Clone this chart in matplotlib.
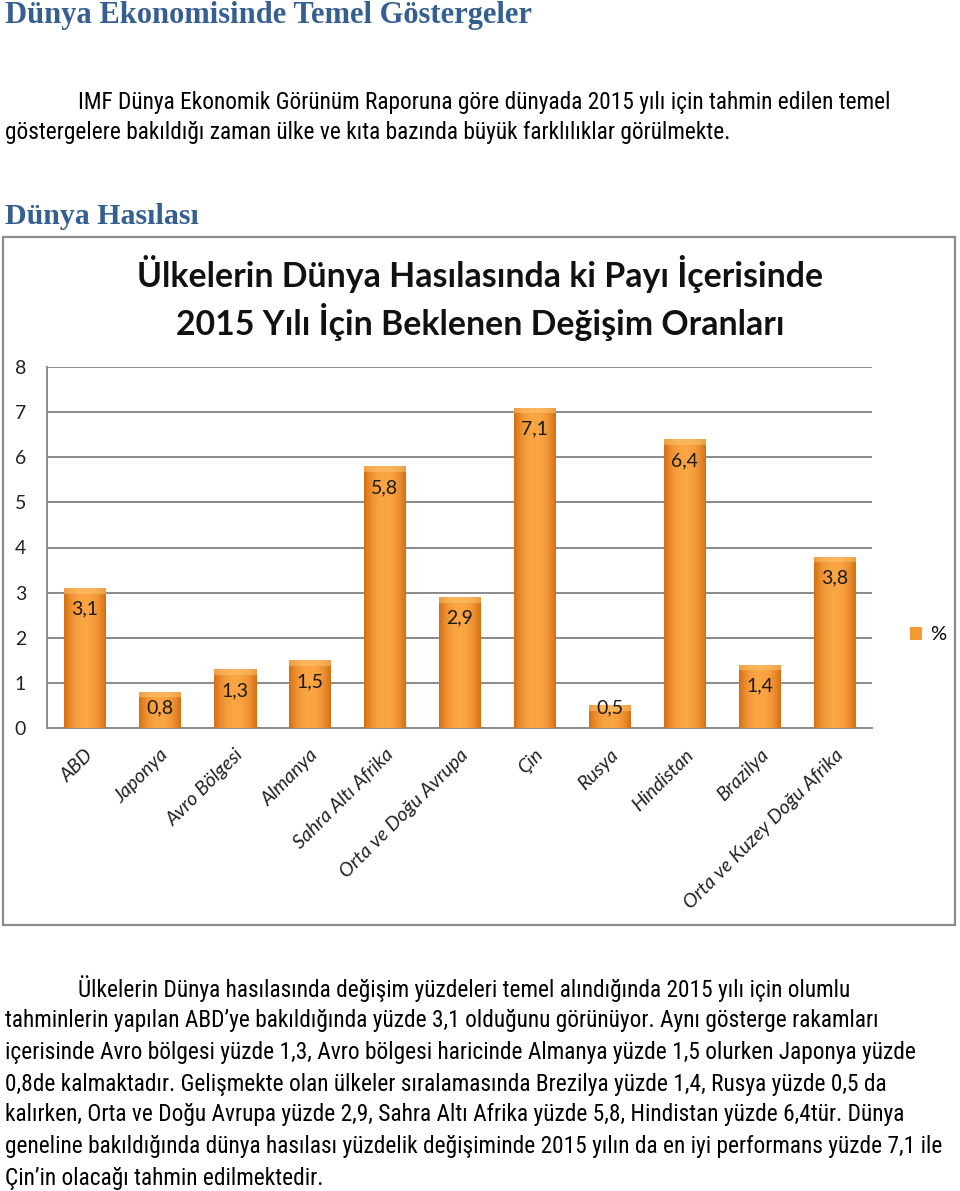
import numpy as np
import matplotlib
matplotlib.use("Agg")
import matplotlib.pyplot as plt
from matplotlib.patches import Rectangle
from matplotlib.colors import to_rgb
from matplotlib import font_manager

# ---------------- data ----------------
categories = ["ABD", "Japonya", "Avro Bölgesi", "Almanya", "Sahra Altı Afrika",
              "Orta ve Doğu Avrupa", "Çin", "Rusya", "Hindistan", "Brazilya",
              "Orta ve Kuzey Doğu Afrika"]
values = [3.1, 0.8, 1.3, 1.5, 5.8, 2.9, 7.1, 0.5, 6.4, 1.4, 3.8]
value_labels = ["3,1", "0,8", "1,3", "1,5", "5,8", "2,9", "7,1", "0,5", "6,4", "1,4", "3,8"]
yticks = [0, 1, 2, 3, 4, 5, 6, 7, 8]
series_name = "%"

chart_title = "Ülkelerin Dünya Hasılasında ki Payı İçerisinde\n2015 Yılı İçin Beklenen Değişim Oranları"
heading1 = "Dünya Ekonomisinde Temel Göstergeler"
heading2 = "Dünya Hasılası"
para1 = ["IMF Dünya Ekonomik Görünüm Raporuna göre dünyada 2015 yılı için tahmin edilen temel",
         "göstergelere bakıldığı zaman ülke ve kıta bazında büyük farklılıklar görülmekte."]
para2 = ["Ülkelerin Dünya hasılasında değişim yüzdeleri temel alındığında 2015 yılı için olumlu",
         "tahminlerin yapılan ABD’ye bakıldığında yüzde 3,1 olduğunu görünüyor. Aynı gösterge rakamları",
         "içerisinde Avro bölgesi yüzde 1,3, Avro bölgesi haricinde Almanya yüzde 1,5 olurken Japonya yüzde",
         "0,8de kalmaktadır. Gelişmekte olan ülkeler sıralamasında Brezilya yüzde 1,4, Rusya yüzde 0,5 da",
         "kalırken, Orta ve Doğu Avrupa yüzde 2,9, Sahra Altı Afrika yüzde 5,8, Hindistan yüzde 6,4tür. Dünya",
         "geneline bakıldığında dünya hasılası yüzdelik değişiminde 2015 yılın da en iyi performans yüzde 7,1 ile",
         "Çin’in olacağı tahmin edilmektedir."]

# ---------------- fonts ----------------
def is_regular(f):
    w = f.weight
    if isinstance(w, str):
        w = {"normal": 400, "regular": 400, "book": 400}.get(w.lower(), 0)
    return w in (400, 450) and f.style == "normal"

body_family = "Lato"
entries = font_manager.fontManager.ttflist
for cand in ["Noto Sans Condensed", "Roboto Condensed", "Liberation Sans Narrow",
             "Open Sans Condensed", "DejaVu Sans Condensed"]:
    if any(f.name == cand and is_regular(f) for f in entries):
        body_family = cand
        break
body_font = [body_family, "DejaVu Sans"]
serif_font = ["Liberation Serif", "DejaVu Serif"]
chart_font = ["Lato", "DejaVu Sans"]

# ---------------- figure ----------------
W, H = 960, 1191
fig = plt.figure(figsize=(W / 100, H / 100), dpi=100)
fig.patch.set_facecolor("white")
renderer = fig.canvas.get_renderer()

def fx(x):
    return x / W

def fy(y):
    return 1 - y / H

# fit body font size so the full lines span (on average) the widths seen on the page
fit_lines = [para1[0], para2[1], para2[2], para2[4], para2[5]]
fit_target = (865 - 78) + (905 - 5) + (903 - 5) + (905 - 5) + (928 - 5)
tot = 0
for ln in fit_lines:
    probe = fig.text(0, 0, ln, family=body_font, size=10, weight="normal")
    tot += probe.get_window_extent(renderer).width
    probe.remove()
body_size = 10 * fit_target / tot

head_color = "#365F91"

fig.text(fx(5), fy(15), heading1, family=serif_font, weight="bold", size=22,
         color=head_color, va="center", ha="left")
fig.text(fx(5), fy(216), heading2, family=serif_font, weight="bold", size=21.5,
         color=head_color, va="center", ha="left")

fig.text(fx(78), fy(102), para1[0], family=body_font, size=body_size, weight="normal",
         va="center", ha="left")
fig.text(fx(5), fy(133), para1[1], family=body_font, size=body_size, weight="normal",
         va="center", ha="left")

p2_y = [989, 1020, 1052, 1084, 1115, 1147, 1178]
for i, (line, yy) in enumerate(zip(para2, p2_y)):
    fig.text(fx(78 if i == 0 else 5), fy(yy), line, family=body_font, size=body_size,
             weight="normal", va="center", ha="left")

# chart frame
frame = Rectangle((fx(3), fy(925)), fx(955) - fx(3), fy(237) - fy(925),
                  transform=fig.transFigure, fill=False, edgecolor="#8c8c8c", lw=1.6)
fig.add_artist(frame)

fig.text(0.5, fy(298), chart_title, family=chart_font, weight="bold", size=24.4,
         ha="center", va="center", linespacing=1.3, color="#111111")

# axes
ax_left, ax_right = 47, 872
ax_top, ax_bottom = 367, 728
ax = fig.add_axes([fx(ax_left), fy(ax_bottom), fx(ax_right) - fx(ax_left), fy(ax_top) - fy(ax_bottom)])
ax.set_facecolor("none")
x = np.arange(len(categories))
ax.set_xlim(-0.5, len(categories) - 0.5)
ax.set_ylim(0, 8)
ax.set_yticks(yticks)
ax.set_yticklabels([str(t) for t in yticks], family=chart_font, size=14, color="#222222")
ax.tick_params(axis="y", length=0, pad=15)
ax.set_xticks(x)
ax.set_xticklabels(categories, rotation=45, ha="right", rotation_mode="anchor",
                   family=chart_font, style="italic", size=14, color="#222222")
ax.tick_params(axis="x", length=0, pad=13)
ax.yaxis.grid(True, color="#8a8a8a", lw=1.4)
ax.set_axisbelow(True)
for s in ["top", "right"]:
    ax.spines[s].set_visible(False)
for s in ["left", "bottom"]:
    ax.spines[s].set_color("#8a8a8a")
    ax.spines[s].set_linewidth(1.4)

bars = ax.bar(x, values, width=0.56, color="#F39A33", edgecolor="none", zorder=3,
              label=series_name)

# gradient fill for each bar
edge_c = np.array(to_rgb("#D46F12"))
mid_c = np.array(to_rgb("#FBA545"))
top_c = np.array(to_rgb("#FCC46E"))
nx = 60
t = np.linspace(-1, 1, nx)
hf = 1 - np.abs(t) ** 2.2
for b in bars:
    bx, by = b.get_x(), b.get_y()
    bw, bh = b.get_width(), b.get_height()
    ny = max(int(bh * 60), 10)
    yy = np.linspace(1, 0, ny)  # top row first
    bevel = 0.13 / bh
    img = mid_c[None, None, :] * hf[None, :, None] + edge_c[None, None, :] * (1 - hf[None, :, None])
    img = np.repeat(img, ny, axis=0)
    topmask = (1 - yy) < bevel
    img[topmask] = img[topmask] * 0.45 + top_c * 0.55
    im = ax.imshow(img, extent=[bx, bx + bw, by, by + bh], aspect="auto", zorder=3.5,
                   interpolation="bilinear")
    im.set_clip_path(b)

ax.set_aspect("auto")
ax.set_xlim(-0.5, len(categories) - 0.5)
ax.set_ylim(0, 8)

# data labels: inside end, but never lower than near the base
for xi, v, lab in zip(x, values, value_labels):
    ax.text(xi, max(v - 0.47, 0.44), lab, ha="center", va="center",
            family=chart_font, size=14, color="#1a1a1a", zorder=5)

leg = ax.legend(loc="center left", bbox_to_anchor=(fx(900), fy(635)),
                bbox_transform=fig.transFigure, frameon=False, handlelength=0.6,
                handleheight=0.6, handletextpad=0.4, borderpad=0,
                prop={"family": chart_font, "size": 14.5})

fig.savefig("out.png", dpi=100, facecolor="white")
